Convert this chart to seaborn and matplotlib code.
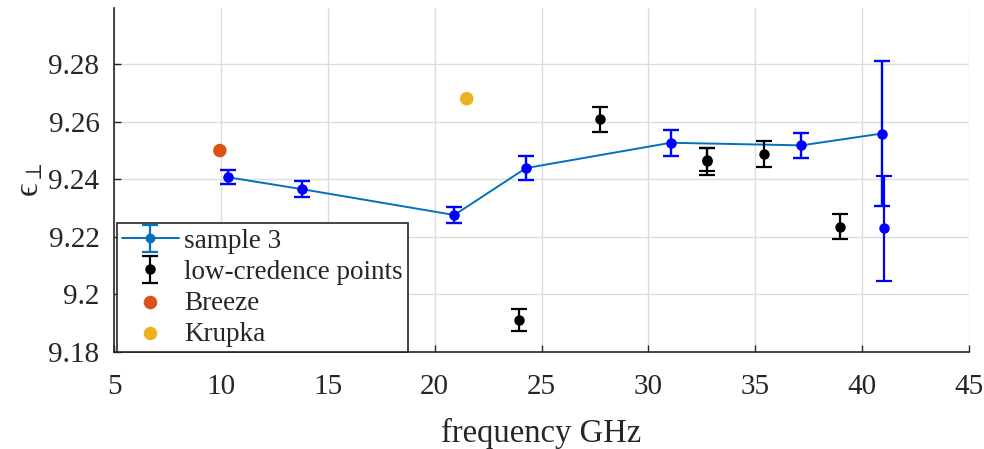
import matplotlib
matplotlib.use("Agg")
import matplotlib.pyplot as plt
import seaborn as sns
import pandas as pd

# ---- data ----
s3_freq = [10.35, 13.78, 20.92, 24.27, 31.04, 37.16, 40.91]
s3_eps = [9.2407, 9.2366, 9.2276, 9.2439, 9.2527, 9.2518, 9.2559]
s3_err = [0.0024, 0.0027, 0.0027, 0.0042, 0.0045, 0.0043, 0.0252]

s3_extra_freq = [41.0]
s3_extra_eps = [9.2230]
s3_extra_err = [0.0182]

low_freq = [23.95, 27.74, 32.73, 32.73, 35.42, 38.97]
low_eps = [9.1912, 9.2608, 9.2462, 9.2468, 9.2487, 9.2236]
low_err = [0.0038, 0.0045, 0.0048, 0.0040, 0.0045, 0.0043]

breeze_freq = [9.95]
breeze_eps = [9.250]
krupka_freq = [21.5]
krupka_eps = [9.268]

x_ticks = [5, 10, 15, 20, 25, 30, 35, 40, 45]
y_ticks = [9.18, 9.20, 9.22, 9.24, 9.26, 9.28]
y_tick_labels = ["9.18", "9.2", "9.22", "9.24", "9.26", "9.28"]

# ---- style ----
sns.set_theme(style="white")
plt.rcParams["font.family"] = ["Liberation Serif", "DejaVu Serif"]
plt.rcParams["mathtext.fontset"] = "stix"

fig = plt.figure(figsize=(9.84, 4.49), dpi=100)
ax = fig.add_axes([0.1159, 0.216, 0.9848 - 0.1159, 0.982 - 0.216])

MBLUE = "#0072BD"
BLUE = "#0000FF"

# sample 3 line (legend entry)
h_s3 = ax.errorbar(s3_freq, s3_eps, yerr=s3_err, color=MBLUE, marker="o",
                   markersize=6, lw=1.4, elinewidth=1.6, capsize=5.5,
                   capthick=1.6, label="sample 3", zorder=3)
# blue overlay markers/errorbars
ax.errorbar(s3_freq, s3_eps, yerr=s3_err, color=BLUE, marker="o",
            markersize=6.5, linestyle="none", elinewidth=1.6, capsize=5.5,
            capthick=1.6, zorder=4)
ax.errorbar(s3_extra_freq, s3_extra_eps, yerr=s3_extra_err, color=BLUE,
            marker="o", markersize=6.5, linestyle="none", elinewidth=1.6,
            capsize=5.5, capthick=1.6, zorder=4)

# low credence points
h_low = ax.errorbar(low_freq, low_eps, yerr=low_err, color="black", marker="o",
                    markersize=6.5, linestyle="none", elinewidth=1.6,
                    capsize=5.5, capthick=1.6, label="low-credence points",
                    zorder=4)

# reference points via seaborn
df_b = pd.DataFrame({"f": breeze_freq, "e": breeze_eps})
df_k = pd.DataFrame({"f": krupka_freq, "e": krupka_eps})
sns.scatterplot(data=df_b, x="f", y="e", color="#D95319", s=95,
                edgecolor="none", ax=ax, label="Breeze", zorder=4)
sns.scatterplot(data=df_k, x="f", y="e", color="#EDB120", s=95,
                edgecolor="none", ax=ax, label="Krupka", zorder=4)

# axes
ax.set_xlim(5, 45)
ax.set_ylim(9.18, 9.2995)
ax.set_xticks(x_ticks)
ax.set_xticklabels([str(t) for t in x_ticks])
ax.set_yticks(y_ticks)
ax.set_yticklabels(y_tick_labels)
ax.grid(True, color="#dcdcdc", lw=1.0)
ax.set_axisbelow(True)
for s in ["top", "right"]:
    ax.spines[s].set_visible(False)
for s in ["left", "bottom"]:
    ax.spines[s].set_color("#262626")
    ax.spines[s].set_linewidth(1.2)
ax.tick_params(axis="both", direction="in", length=5, width=1.0,
               color="#262626", labelsize=21, labelcolor="#262626",
               bottom=True, left=True)
ax.tick_params(axis="x", pad=16)
ax.tick_params(axis="y", pad=10.5)
ax.set_xlabel("frequency GHz", fontsize=23.5, color="#262626", labelpad=13)
ax.set_ylabel("\u03f5" + r"$_{\perp}$", fontsize=24, color="#262626",
              labelpad=2)

handles, labels = ax.get_legend_handles_labels()
order = ["sample 3", "low-credence points", "Breeze", "Krupka"]
hmap = dict(zip(labels, handles))
leg = ax.legend([hmap[k] for k in order], order, loc="lower left",
                bbox_to_anchor=(0.003, 0.0), fontsize=19.5, frameon=True,
                fancybox=False, edgecolor="#262626", framealpha=1,
                borderaxespad=0.0, borderpad=0.2, handlelength=2.1,
                handletextpad=0.2, labelspacing=0.22)
leg.get_frame().set_linewidth(1.2)
leg.set_zorder(10)

fig.savefig("out.png", dpi=100)
